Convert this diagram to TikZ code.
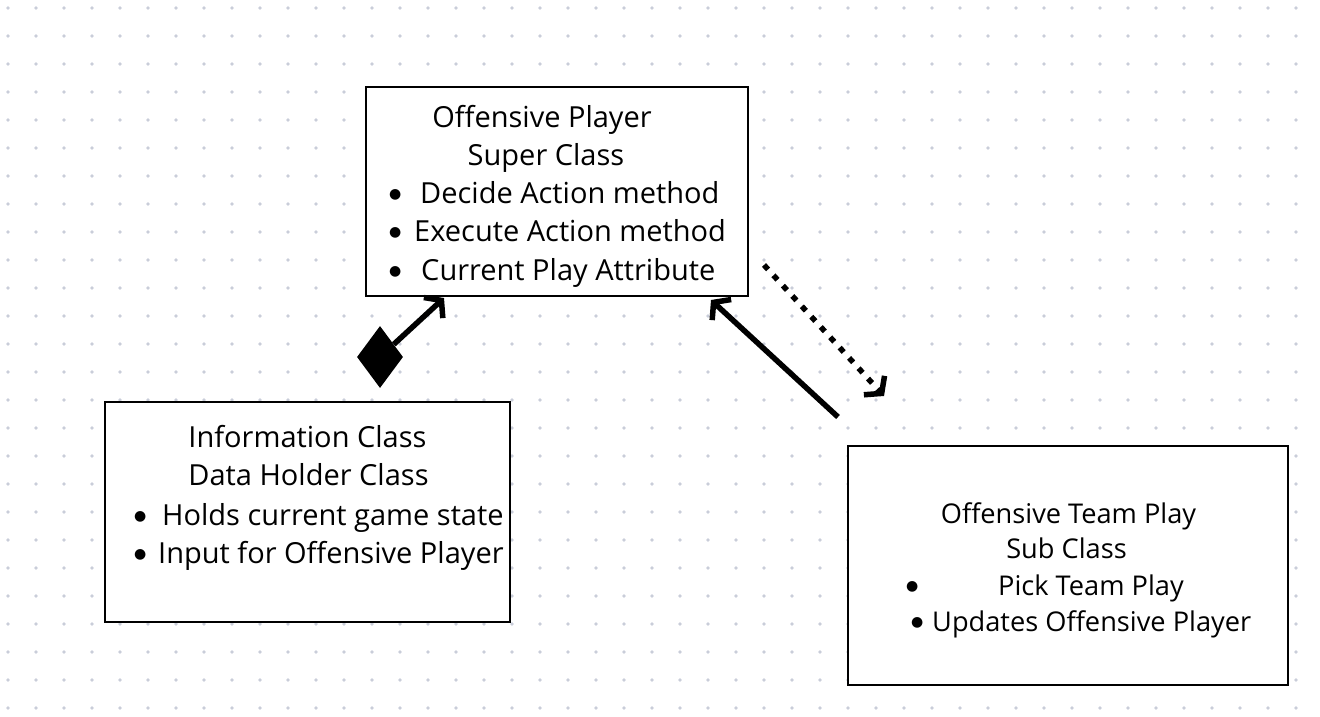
\documentclass[tikz,border=0pt]{standalone}
\usepackage{fontspec}
\setmainfont{Open Sans}
\newfontfamily\dejavu{DejaVu Sans}
\usetikzlibrary{arrows.meta,shapes.geometric}
\newcommand{\bigbul}{\makebox[0pt]{\raisebox{5pt}{\dejavu\fontsize{14}{14}\selectfont ●}}}
\newcommand{\bitem}[2]{\bigbul\hspace*{#1pt}#2}
\begin{document}
\begin{tikzpicture}[x=1pt,y=-1pt,
  box/.style={draw=black, line width=2.8pt, fill=white, inner sep=0pt},
  txt/.style={font=\fontsize{29}{34}\selectfont, inner sep=0pt, anchor=base},
  ltxt/.style={txt, anchor=base west},
  ttxt/.style={txt, font=\fontsize{27.2}{32}\selectfont},
  tltxt/.style={ttxt, anchor=base west},
  conn/.style={line width=5.5pt, -{Straight Barb[length=11pt,width=28pt]}},
  dotconn/.style={conn, dash pattern=on 6pt off 8pt}]
\definecolor{gridc}{HTML}{C9CDD9}
\fill[white] (0,0) rectangle (1320,717);
\useasboundingbox (0,0) rectangle (1320,717);
\foreach \i in {0,...,46}{
  \foreach \j in {0,...,25}{
    \fill[gridc] (8+28*\i,8+28*\j) circle (1.8pt);
  }
}
% boxes
\node[box, minimum width=382, minimum height=209] (sup) at (557,191.5) {};
\node[box, minimum width=405, minimum height=220] (info) at (307.5,512) {};
\node[box, minimum width=440, minimum height=239] (team) at (1068,565.5) {};
% top box text
\node[txt] (s1) at (542,127) {Offensive Player};
\node[txt] (s2) at (546,165) {Super Class};
\node[ltxt] (st1) at (395,203) {\bitem{25}{Decide Action method}};
\node[ltxt] (st2) at (395,241) {\bitem{19}{Execute Action method}};
\node[ltxt] (st3) at (395,280) {\bitem{26}{Current Play Attribute}};
% info box text
\node[txt] (i1) at (307.5,447) {Information Class};
\node[txt] (i2) at (308.5,485) {Data Holder Class};
\node[ltxt] (it1) at (140,525) {\bitem{22}{Holds current game state}};
\node[ltxt] (it2) at (140,563) {\bitem{18}{Input for Offensive Player}};
% team box text
\node[ttxt] (t1) at (1068.5,523) {Offensive Team Play};
\node[ttxt] (t2) at (1066.5,558) {Sub Class};
\node[tltxt] (tt1) at (912,595) {\bitem{86}{Pick Team Play}};
\node[tltxt] (tt2) at (917,631) {\bitem{15}{Updates Offensive Player}};
% connectors
\node[diamond, fill=black, inner sep=0pt, minimum width=46, minimum height=62] (dia) at (380,357) {};
\coordinate (a1) at (444,298);
\draw[conn] (dia) -- (a1);
\coordinate (s1a) at (838,417);
\coordinate (s1b) at (711,300);
\draw[conn] (s1a) -- (s1b);
\coordinate (d1) at (764,265);
\coordinate (d2) at (884,396);
\draw[dotconn] (d1) -- (d2);
\end{tikzpicture}
\end{document}
